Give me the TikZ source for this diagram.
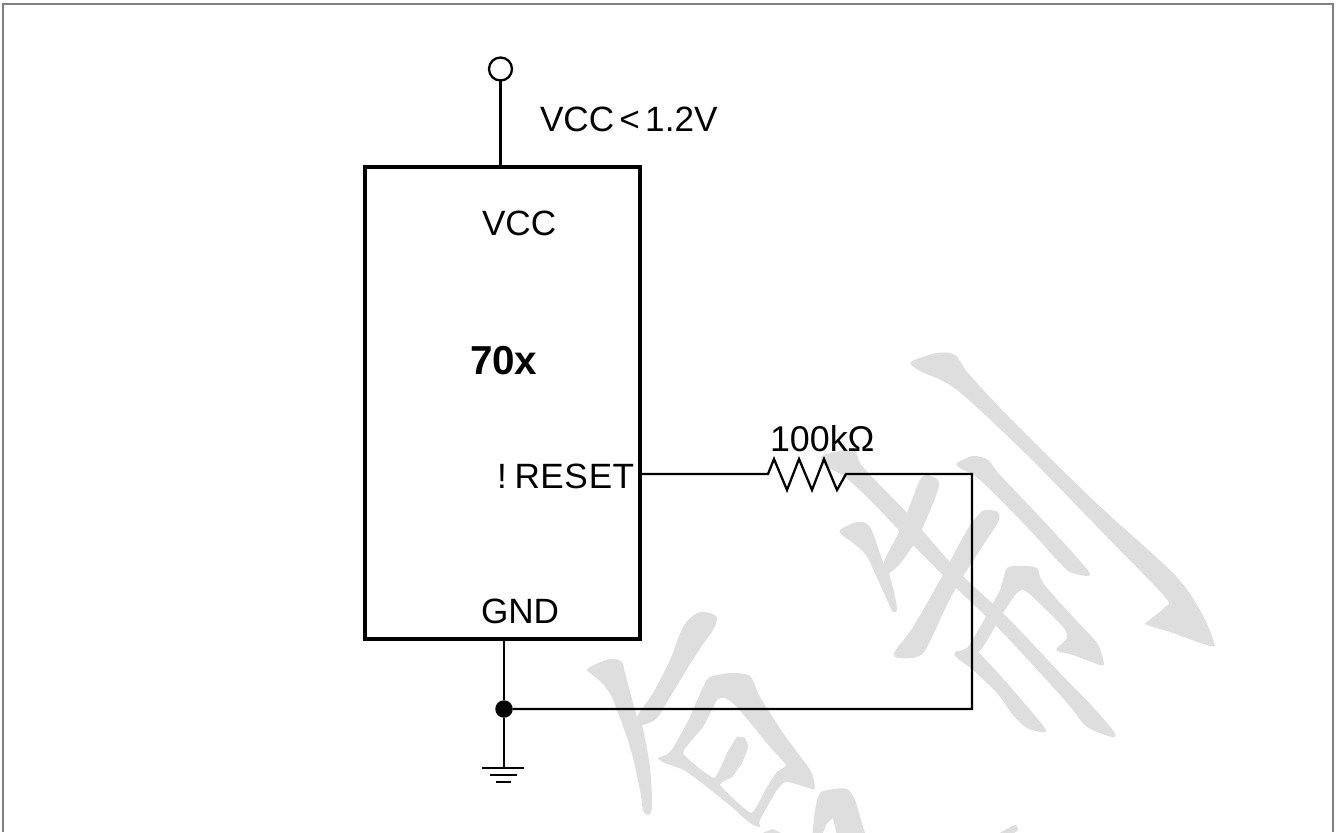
\documentclass[tikz,border=0pt]{standalone}
\usepackage{fontspec}
\setmainfont{Liberation Sans}
\definecolor{wmark}{HTML}{DEDEDE}
\definecolor{framegray}{HTML}{808080}
\tikzset{
  every node/.style={font=\fontsize{20}{24}\selectfont,inner sep=0pt,outer sep=0pt},
  label/.style={anchor=base west},
  wire/.style={line width=1.3pt},
  stroke/.style={fill=wmark}
}
\begin{document}
\begin{tikzpicture}[x=0.02cm,y=-0.02cm]
\useasboundingbox (0,0) rectangle (1338,832);
\clip (0,0) rectangle (1338,832);
% watermark
\fill[stroke] plot[smooth cycle,tension=0.5] coordinates {(911,362) (937,353) (955,355) (968,373) (1007,415) (1093,500) (1173,573) (1200,610) (1214,642) (1210,646) (1173,633) (1147,625) (1147,622) (1165,607) (1165,597) (1107,537) (1027,455) (957,390) (920,371)};
\fill[stroke] plot[smooth cycle,tension=0.5] coordinates {(957,463) (973,456) (988,460) (1000,475) (1040,517) (1073,553) (1089,572) (1087,576) (1070,572) (1057,560) (1027,527) (980,480) (960,468)};
\fill[stroke] plot[smooth cycle,tension=0.5] coordinates {(822,456) (840,451) (855,450) (863,467) (907,513) (960,573) (1007,617) (1060,673) (1093,707) (1114,732) (1112,737) (1087,727) (1073,710) (1053,687) (1000,630) (953,585) (913,545) (873,503) (845,477) (824,465)};
\fill[stroke] plot[smooth cycle,tension=0.5] coordinates {(927,475) (938,480) (937,493) (920,533) (903,560) (889,573) (884,562) (900,530) (912,500) (920,480)};
\fill[stroke] plot[smooth cycle,tension=0.5] coordinates {(840,530) (857,522) (870,527) (883,562) (889,573) (897,607) (893,612) (887,600) (867,557) (853,543) (842,535)};
\fill[stroke] plot[smooth cycle,tension=0.5] coordinates {(987,510) (998,512) (998,522) (980,550) (953,593) (927,647) (917,657) (900,658) (894,653) (913,627) (940,580) (967,530) (980,513)};
\fill[stroke] plot[smooth cycle,tension=0.4] coordinates {(955,652) (967,648) (980,627) (1000,590) (1007,568) (1022,566) (1037,568) (1043,583) (1073,617) (1097,643) (1104,663) (1100,665) (1073,655) (1057,651) (1058,647) (1067,638) (1063,627) (1027,592) (1017,593) (1003,613) (978,653)};
\fill[stroke] plot[smooth cycle,tension=0.5] coordinates {(955,652) (970,650) (978,652) (1007,683) (1044,727) (1042,732) (1027,728) (1013,715) (997,693) (973,670) (957,658)};
\fill[stroke] plot[smooth cycle,tension=0.5] coordinates {(717,618) (713,630) (697,653) (670,697) (657,718) (642,725) (637,717) (653,693) (670,660) (683,627) (697,613) (710,613)};
\fill[stroke] plot[smooth cycle,tension=0.5] coordinates {(588,668) (610,659) (622,662) (625,673) (637,717) (642,725) (650,767) (652,807) (648,815) (643,810) (640,790) (630,747) (613,700) (602,683) (590,673)};
\fill[stroke,even odd rule] plot[smooth cycle,tension=0.4] coordinates {(658,758) (670,752) (687,723) (703,687) (710,677) (730,673) (750,676) (760,697) (783,733) (810,770) (815,787) (812,789) (787,782) (777,790) (760,820) (760,827) (750,823) (727,803) (687,772) (665,763)}
  plot[smooth cycle,tension=0.25] coordinates {(683,753) (703,727) (717,700) (725,698) (737,707) (770,747) (786,765) (777,772) (767,787) (751,813) (720,785) (732,777) (742,763) (748,747) (745,738) (737,737) (727,753) (714,778)};
\fill[stroke] plot[smooth,tension=0.4] coordinates {(812,840) (815,810) (820,793) (833,789) (847,789) (855,800) (863,827) (868,840)} -- (838,840) -- (833,818) -- (827,823) -- (820,840) -- cycle;
\fill[stroke] (760,834) -- (773,829) -- (783,834) -- cycle;
\fill[stroke] plot[smooth,tension=0.4] coordinates {(840,789) (853,797) (855,807) (865,834)} -- (840,834) -- cycle;
\fill[stroke] plot[smooth,tension=0.4] coordinates {(998,834) (1015,825) (1018,830) (1012,834)} -- cycle;
% frame
\draw[framegray,line width=1.3pt] (3,832) -- (3,4) -- (1333,4) -- (1333,832);
% chip
\node[draw,line width=1.9pt,minimum width=5.5cm,minimum height=9.44cm] (chip) at (502.5,403) {};
\node[label] (vcclabel) at (482,235) {VCC};
\node[label,font=\fontsize{23}{24}\selectfont\bfseries] (namelabel) at (470,374) {70x};
\node[label] (resetlabel) at (497,488) {!\hspace{4.5pt}R\hspace{0.2pt}E\hspace{0.3pt}S\hspace{0.6pt}E\hspace{0.2pt}T};
\node[label] (gndlabel) at (481,623) {GND};
\node[label] (supplylabel) at (540,131) {VCC\hspace{3pt}<\hspace{3pt}1.2V};
\node[label,font=\fontsize{20.4}{24}\selectfont] (reslabel) at (770,451) {100kΩ};
% supply pin
\node[draw,circle,wire,minimum size=0.46cm] (term) at (500.5,69) {};
\draw[wire] (term) -- (term |- chip.north);
% reset net
\coordinate (resin) at (768,474);
\coordinate (resout) at (846,474);
\coordinate (corner) at (972,474);
\node[circle,fill=black,minimum size=0.35cm] (junc) at (504,709) {};
\draw[wire] (chip.east |- resin) -- (resin) -- ++(6,-15) -- ++(13,31) -- ++(12,-31) -- ++(13,31) -- ++(12,-31) -- ++(13,31) -- (resout) -- (corner) -- (corner |- junc) -- (junc);
% ground
\coordinate (gnd) at (504,768);
\draw[wire] (chip.south -| junc) -- (junc) -- (gnd);
\draw[wire] (482,768) -- (524,768);
\draw[wire] (490,775) -- (517,775);
\draw[wire] (496,782) -- (511,782);
\end{tikzpicture}
\end{document}
